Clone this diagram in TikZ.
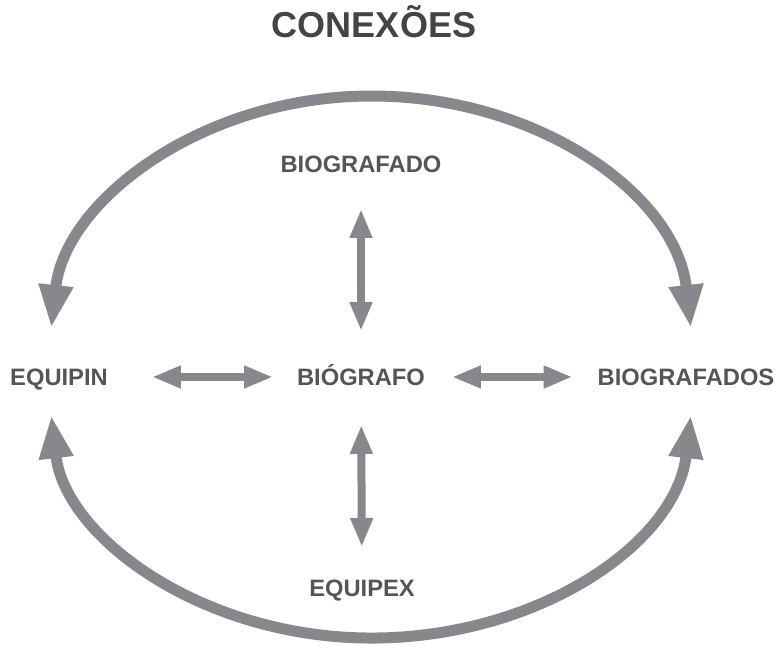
\documentclass[tikz,border=0pt]{standalone}
\usepackage{fontspec}
\setmainfont{Liberation Sans}
\usetikzlibrary{arrows.meta}
\definecolor{arrowGray}{RGB}{135,136,139}
\definecolor{labelGray}{RGB}{85,85,85}
\definecolor{titleGray}{RGB}{68,68,68}
\begin{document}
\begin{tikzpicture}
[x=0.02cm,y=0.02cm,%
  nodeDecorate/.style={inner sep=0pt,text=labelGray,text height=9.7pt,text depth=0pt,
    font=\fontsize{13.5}{16}\selectfont\bfseries},%
  lineDecorate/.style={draw=arrowGray,line width=0.16cm,
    {Triangle[width=0.42cm,length=0.58cm]}-{Triangle[width=0.42cm,length=0.58cm]}},%
  arcDecorate/.style={draw=arrowGray,line width=0.22cm,
    {Triangle[width=0.64cm,length=0.86cm]}-{Triangle[width=0.64cm,length=0.86cm]}}]
\useasboundingbox (0,0) rectangle (782,655);
%% title
\node (title) at (374,630) [inner sep=0pt,text=titleGray,text height=14.7pt,text depth=0pt,
  font=\fontsize{20.5}{24}\selectfont\bfseries] {CONEXÕES};
%% nodes or vertices
\foreach \nodename/\x/\y/\caption in {
  biografado/361/491/BIOGRAFADO, equipin/59/278/EQUIPIN, biografo/361/278/BIÓGRAFO,
  biografados/686/278/BIOGRAFADOS, equipex/362/67/EQUIPEX}
{
  \node (\nodename) at (\x,\y) [nodeDecorate] {\caption};
}
%% straight double arrows
\path
\foreach \startnode/\endnode/\s/\e in {
  equipin/biografo/1.86cm/1.76cm, biografo/biografados/1.82cm/2.27cm,
  biografado/biografo/0.9cm/0.92cm, biografo/equipex/0.96cm/0.82cm}
{
  (\startnode.center) edge[lineDecorate,shorten <=\s,shorten >=\e] (\endnode.center)
};
%% outer arcs
\coordinate (arcTopEnd) at (690.8,327.1);
\coordinate (arcBotEnd) at (690.8,239.7);
\draw[arcDecorate] (arcTopEnd) arc[start angle=5,end angle=175,x radius=321,y radius=254];
\draw[arcDecorate] (arcBotEnd) arc[start angle=-5,end angle=-175,x radius=321,y radius=244];
\end{tikzpicture}
\end{document}
